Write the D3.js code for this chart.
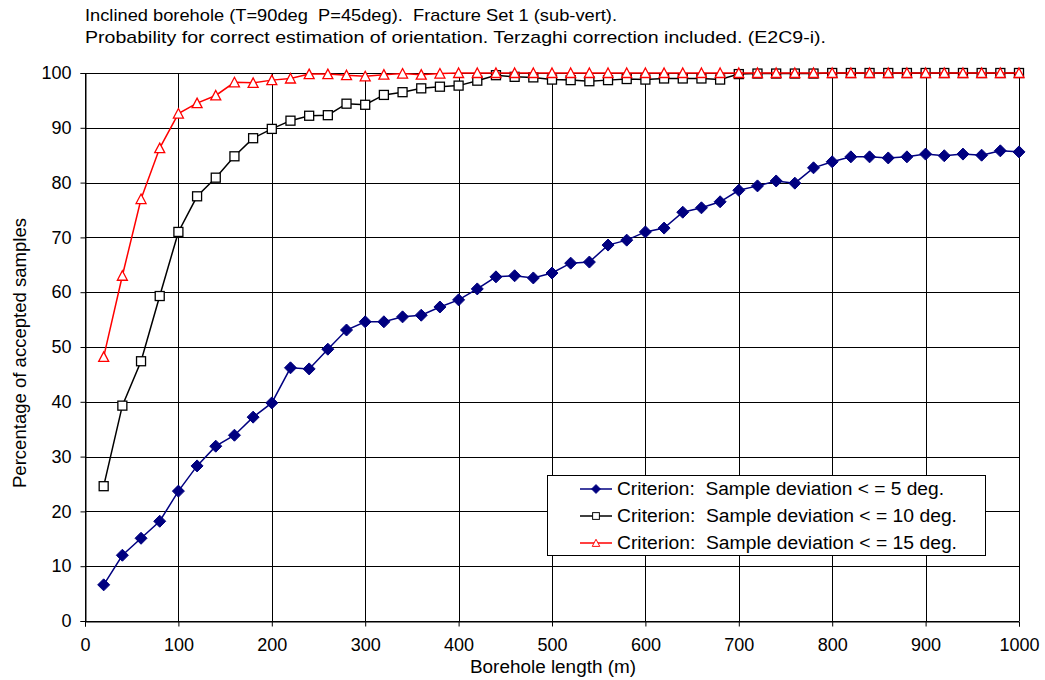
<!DOCTYPE html>
<html><head><meta charset="utf-8">
<script src="https://cdn.jsdelivr.net/npm/d3@7"></script>
<style>
body{margin:0;background:#fff;}
text{font-family:"Liberation Sans",Arial,sans-serif;fill:#000;white-space:pre;}
</style></head>
<body><svg id="c" width="1045" height="680"></svg>
<script>
const lengths = d3.range(20, 1001, 20);
const dev5 = [6.6,12.0,15.1,18.2,23.7,28.3,31.9,33.9,37.2,39.8,46.2,46.0,49.6,53.1,54.6,54.6,55.5,55.8,57.3,58.6,60.6,62.8,63.0,62.6,63.5,65.3,65.5,68.6,69.5,71.0,71.7,74.6,75.4,76.5,78.6,79.4,80.3,79.9,82.7,83.8,84.7,84.7,84.5,84.7,85.2,84.9,85.2,85.0,85.8,85.6];
const dev10 = [24.6,39.3,47.4,59.3,71.0,77.5,80.9,84.8,88.1,89.8,91.3,92.2,92.3,94.4,94.2,96.0,96.5,97.2,97.5,97.7,98.6,99.6,99.3,99.2,98.8,98.7,98.5,98.7,98.9,98.8,99.0,99.0,99.0,98.8,99.8,99.9,99.9,99.9,99.9,100,100,100,100,100,100,100,100,100,100,100];
const dev15 = [48.2,63.0,77.0,86.3,92.6,94.5,95.9,98.3,98.2,98.7,99.0,99.8,99.8,99.6,99.4,99.7,99.9,99.7,99.9,100,100,100,100,100,100,100,100,100,100,100,100,100,100,100,100,100,100,100,100,100,100,100,100,100,100,100,100,100,100,100];
const seriesNames = ["Criterion:  Sample deviation < = 5 deg.","Criterion:  Sample deviation < = 10 deg.","Criterion:  Sample deviation < = 15 deg."];
const xTicks = d3.range(0, 1001, 100);
const yTicks = d3.range(0, 101, 10);
const titleLines = ["Inclined borehole (T=90deg  P=45deg).  Fracture Set 1 (sub-vert).","Probability for correct estimation of orientation. Terzaghi correction included. (E2C9-i)."];

const svg = d3.select("#c");
const L=85,R=1019,T=73,B=621;
const x = d3.scaleLinear().domain([0,1000]).range([L,R]);
const y = d3.scaleLinear().domain([0,100]).range([B,T]);

// title
const titleW = [532, 741];
svg.selectAll("text.title").data(titleLines).join("text").attr("class","title")
 .attr("x",85).attr("y",(d,i)=>21+i*22).attr("font-size",17)
 .attr("textLength",(d,i)=>titleW[i]).attr("lengthAdjust","spacingAndGlyphs").text(d=>d);

// grid
const g = svg.append("g");
g.selectAll("line.h").data(yTicks).join("line").attr("x1",L).attr("x2",R)
 .attr("y1",d=>Math.round(y(d))+0.5).attr("y2",d=>Math.round(y(d))+0.5).attr("stroke","#000").attr("stroke-width",1);
g.selectAll("line.v").data(xTicks).join("line").attr("y1",T).attr("y2",B)
 .attr("x1",d=>Math.round(x(d))+0.5).attr("x2",d=>Math.round(x(d))+0.5).attr("stroke","#000").attr("stroke-width",1);

// axes
const xa = svg.append("g").attr("transform",`translate(0,${Math.round(B)+0.5})`)
 .call(d3.axisBottom(x).tickValues(xTicks).tickSize(5).tickPadding(12).tickFormat(d3.format("d")));
const ya = svg.append("g").attr("transform",`translate(${L+0.5},0)`)
 .call(d3.axisLeft(y).tickValues(yTicks).tickSize(5).tickPadding(9).tickFormat(d3.format("d")));
[xa,ya].forEach(a=>{a.selectAll("text").attr("font-size",18).attr("font-family","Liberation Sans, Arial, sans-serif");
 a.selectAll("line,path").attr("stroke","#000");});

svg.append("text").attr("x",553).attr("y",673).attr("text-anchor","middle").attr("font-size",18)
 .attr("textLength",166).attr("lengthAdjust","spacingAndGlyphs").text("Borehole length (m)");
svg.append("text").attr("transform",`translate(26,353) rotate(-90)`).attr("text-anchor","middle").attr("font-size",18)
 .attr("textLength",270).attr("lengthAdjust","spacingAndGlyphs").text("Percentage of accepted samples");

const series = [
 {v:dev5,color:"#000080",shape:"diamond"},
 {v:dev10,color:"#000000",shape:"square"},
 {v:dev15,color:"#ff0000",shape:"triangle"}];
const line = d3.line().x((d,i)=>x(lengths[i])).y(d=>y(d));
function marker(sel, s){
  if(s.shape==="diamond"){
    sel.append("path").attr("d","M0,-6L6,0L0,6L-6,0Z").attr("fill",s.color).attr("stroke",s.color);
  } else if(s.shape==="square"){
    sel.append("rect").attr("x",-4.5).attr("y",-4.5).attr("width",9).attr("height",9).attr("fill","#fff").attr("stroke",s.color).attr("stroke-width",1.3);
  } else {
    sel.append("path").attr("d","M0,-5L5,4.5L-5,4.5Z").attr("fill","#fff").attr("stroke",s.color).attr("stroke-width",1.3);
  }
}
series.forEach(s=>{
  svg.append("path").datum(s.v).attr("d",line).attr("fill","none").attr("stroke",s.color).attr("stroke-width",1.5);
  svg.append("g").selectAll("g").data(s.v).join("g")
   .attr("transform",(d,i)=>`translate(${x(lengths[i])},${y(d)})`).each(function(){marker(d3.select(this),s);});
});

// legend
const legendW = [327, 340, 340];
const lg = svg.append("g");
lg.append("rect").attr("x",547.5).attr("y",475.5).attr("width",438).attr("height",80).attr("fill","#fff").attr("stroke","#000");
series.forEach((s,i)=>{
  const yy = 489 + i*27;
  lg.append("line").attr("x1",580).attr("x2",612).attr("y1",yy).attr("y2",yy).attr("stroke",s.color).attr("stroke-width",1.5);
  const m = lg.append("g").attr("transform",`translate(596,${yy}) scale(0.75)`);
  marker(m,s);
  lg.append("text").attr("x",617).attr("y",yy+6).attr("font-size",18)
   .attr("textLength",legendW[i]).attr("lengthAdjust","spacingAndGlyphs").text(seriesNames[i]);
});
</script></body></html>
